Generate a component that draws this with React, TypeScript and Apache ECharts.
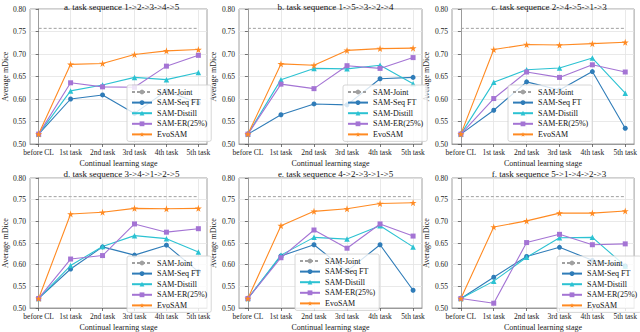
import React, { useEffect, useRef } from "react";
import * as echarts from "echarts";

const categories = ["before CL", "1st task", "2nd task", "3rd task", "4th task", "5th task"];
const titles = [
  "a. task sequence 1->2->3->4->5",
  "b. task sequence 1->5->3->2->4",
  "c. task sequence 2->4->5->1->3",
  "d. task sequence 3->4->1->2->5",
  "e. task sequence 4->2->3->1->5",
  "f. task sequence 5->1->4->2->3",
];
const yTicks = [0.5, 0.55, 0.6, 0.65, 0.7, 0.75, 0.8];
const jointValue = 0.757;

const seqFT = [
  [0.522, 0.6, 0.609, 0.568, 0.618, 0.591],
  [0.522, 0.565, 0.589, 0.587, 0.645, 0.648],
  [0.522, 0.575, 0.638, 0.62, 0.661, 0.535],
  [0.522, 0.59, 0.641, 0.622, 0.645, 0.584],
  [0.522, 0.62, 0.646, 0.585, 0.646, 0.541],
  [0.522, 0.571, 0.619, 0.64, 0.61, 0.597],
];
const distill = [
  [0.522, 0.618, 0.631, 0.648, 0.643, 0.659],
  [0.522, 0.643, 0.668, 0.667, 0.675, 0.634],
  [0.522, 0.637, 0.665, 0.669, 0.691, 0.613],
  [0.522, 0.598, 0.642, 0.667, 0.66, 0.629],
  [0.522, 0.622, 0.663, 0.659, 0.69, 0.641],
  [0.522, 0.562, 0.617, 0.662, 0.663, 0.597],
];
const er25 = [
  [0.522, 0.636, 0.627, 0.626, 0.673, 0.697],
  [0.522, 0.633, 0.623, 0.674, 0.668, 0.692],
  [0.522, 0.601, 0.66, 0.648, 0.676, 0.66],
  [0.522, 0.613, 0.621, 0.694, 0.675, 0.683],
  [0.522, 0.616, 0.68, 0.638, 0.694, 0.666],
  [0.522, 0.511, 0.651, 0.67, 0.646, 0.648],
];
const evoSAM = [
  [0.522, 0.677, 0.679, 0.699, 0.707, 0.71],
  [0.522, 0.678, 0.675, 0.708, 0.712, 0.713],
  [0.522, 0.71, 0.721, 0.72, 0.723, 0.726],
  [0.522, 0.717, 0.721, 0.73, 0.729, 0.73],
  [0.522, 0.69, 0.723, 0.729, 0.741, 0.743],
  [0.522, 0.687, 0.701, 0.719, 0.719, 0.724],
];

const FONT = "Liberation Serif";
const STAR = "path://M50,0 L61,35 L98,35 L68,57 L79,91 L50,70 L21,91 L32,57 L2,35 L39,35 Z";

const gridLefts = [26, 239, 452];
const gridWidths = [181, 183, 184];
const gridTops = [9, 178];
const gridHeights = [135, 134];
const legendPos = [
  [127, 85],
  [343, 85],
  [508, 85],
  [127, 256],
  [295, 254],
  [557, 256],
];

function buildOption() {
  const grid: any[] = [];
  const xAxis: any[] = [];
  const yAxis: any[] = [];
  const series: any[] = [];
  const title: any[] = [];
  const legend: any[] = [];
  const xIdx = categories.map((_, i) => i);
  const toPts = (arr: number[]) => arr.map((v, i) => [i, v]);

  for (let p = 0; p < 6; p++) {
    const r = Math.floor(p / 3);
    const c = p % 3;
    grid.push({
      left: gridLefts[c],
      top: gridTops[r],
      width: gridWidths[c],
      height: gridHeights[r],
      show: true,
      borderColor: "#888",
      borderWidth: 0.8,
      containLabel: false,
    });
    xAxis.push({
      type: "value",
      gridIndex: p,
      min: -0.27,
      max: 5.27,
      name: "Continual learning stage",
      nameLocation: "middle",
      nameGap: 15,
      nameTextStyle: { fontFamily: FONT, fontSize: 8, color: "#222" },
      axisLine: { show: true, lineStyle: { color: "#888", width: 0.8 } },
      axisTick: { show: true, customValues: xIdx, length: 3, lineStyle: { color: "#555", width: 0.8 } },
      axisLabel: {
        customValues: xIdx,
        margin: 4,
        fontFamily: FONT,
        fontSize: 7.5,
        color: "#222",
        formatter: (v: number) => categories[Math.round(v)],
      },
      splitLine: { show: true, lineStyle: { color: "#e3e3e3", width: 0.8 } },
    });
    yAxis.push({
      type: "value",
      gridIndex: p,
      min: 0.5,
      max: 0.8,
      interval: 0.05,
      name: "Average mDice",
      nameLocation: "middle",
      nameGap: 19,
      nameTextStyle: { fontFamily: FONT, fontSize: 8, color: "#222" },
      axisLine: { show: true, lineStyle: { color: "#888", width: 0.8 } },
      axisTick: { show: true, length: 3, lineStyle: { color: "#555", width: 0.8 } },
      axisLabel: {
        margin: 4,
        fontFamily: FONT,
        fontSize: 7.5,
        color: "#222",
        formatter: (v: number) => v.toFixed(2),
      },
      splitLine: { show: true, lineStyle: { color: "#e3e3e3", width: 0.8 } },
    });
    title.push({
      text: titles[p],
      left: gridLefts[c] + gridWidths[c] / 2,
      top: r === 0 ? -3 : 164,
      textAlign: "center",
      textStyle: { fontFamily: FONT, fontSize: 9, fontWeight: "normal", color: "#111" },
    });
    legend.push({
      orient: "vertical",
      left: legendPos[p][0],
      top: legendPos[p][1],
      align: "left",
      itemWidth: 20,
      itemHeight: 6,
      itemGap: 2.6,
      padding: [3, 4, 3, 4],
      backgroundColor: "rgba(255,255,255,0.8)",
      borderColor: "#ccc",
      borderWidth: 0.8,
      borderRadius: 2,
      textStyle: { fontFamily: FONT, fontSize: 8, color: "#111" },
      data: ["SAM-Joint", "SAM-Seq FT", "SAM-Distill", "SAM-ER(25%)", "EvoSAM"],
      selectedMode: false,
    });

    const common = { type: "line", xAxisIndex: p, yAxisIndex: p, z: 3 };
    series.push({
      ...common,
      name: "SAM-Joint",
      data: toPts(categories.map(() => jointValue)),
      symbol: "none",
      lineStyle: { color: "#a0a0a0", width: 1, type: [3, 2] },
      itemStyle: { color: "#a0a0a0" },
    });
    series.push({
      ...common,
      name: "SAM-Seq FT",
      data: toPts(seqFT[p]),
      symbol: "circle",
      symbolSize: 5,
      lineStyle: { color: "#2f7cb8", width: 1.1 },
      itemStyle: { color: "#2f7cb8" },
    });
    series.push({
      ...common,
      name: "SAM-Distill",
      data: toPts(distill[p]),
      symbol: "triangle",
      symbolSize: 5.5,
      lineStyle: { color: "#2cc2d2", width: 1.1 },
      itemStyle: { color: "#2cc2d2" },
    });
    series.push({
      ...common,
      name: "SAM-ER(25%)",
      data: toPts(er25[p]),
      symbol: "rect",
      symbolSize: 5,
      lineStyle: { color: "#a474d4", width: 1.1 },
      itemStyle: { color: "#a474d4" },
    });
    series.push({
      ...common,
      name: "EvoSAM",
      data: toPts(evoSAM[p]),
      symbol: STAR,
      symbolSize: 7,
      lineStyle: { color: "#ff8a22", width: 1.1 },
      itemStyle: { color: "#ff8a22" },
    });
  }

  return {
    animation: false,
    backgroundColor: "#ffffff",
    textStyle: { fontFamily: FONT },
    title,
    legend,
    grid,
    xAxis,
    yAxis,
    series,
  };
}

export default function App() {
  const ref = useRef<HTMLDivElement>(null);
  useEffect(() => {
    if (!ref.current) return;
    const chart = echarts.init(ref.current, undefined, { renderer: "svg" });
    chart.setOption(buildOption() as any);
    return () => chart.dispose();
  }, []);
  return (
    <div
      ref={ref}
      style={{ position: "fixed", left: 0, top: 0, width: 640, height: 332, background: "#fff" }}
    />
  );
}
